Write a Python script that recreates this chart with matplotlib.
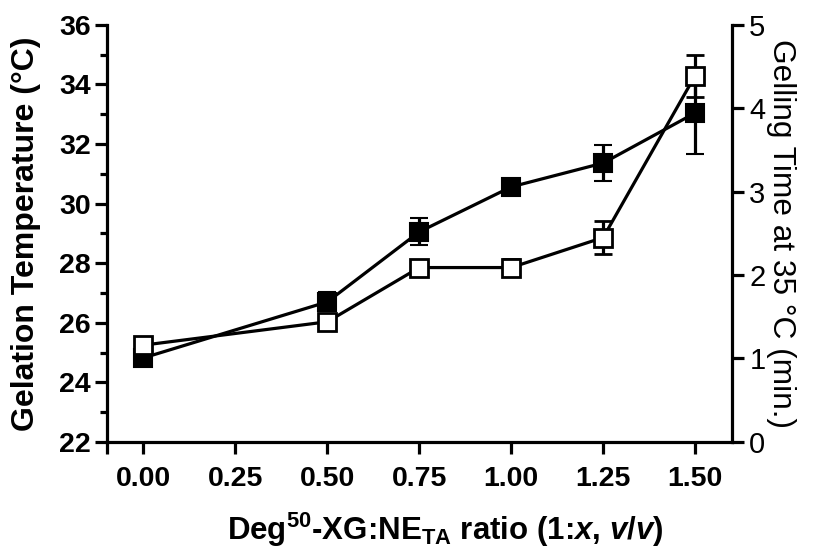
import matplotlib
matplotlib.use('Agg')
import matplotlib.pyplot as plt
from matplotlib.ticker import MultipleLocator

plt.rcParams['font.family'] = ['Liberation Sans', 'DejaVu Sans']
plt.rcParams['mathtext.fontset'] = 'custom'
plt.rcParams['mathtext.rm'] = 'Liberation Sans:bold'
plt.rcParams['mathtext.it'] = 'Liberation Sans:bold:italic'
plt.rcParams['mathtext.bf'] = 'Liberation Sans:bold'

# Deg50-XG : NE_TA ratio
ratio = [0.00, 0.50, 0.75, 1.00, 1.25, 1.50]

# gelation temperature (filled squares, left axis)
gel_temp = [24.82, 26.70, 29.05, 30.56, 31.36, 33.04]
gel_temp_err = [0.15, 0.32, 0.45, 0.15, 0.60, 1.38]

# gelling time at 35 C (open squares, right axis)
gel_time = [1.16, 1.44, 2.09, 2.09, 2.45, 4.39]
gel_time_err = [0.05, 0.03, 0.03, 0.10, 0.20, 0.25]

xticks = [0.00, 0.25, 0.50, 0.75, 1.00, 1.25, 1.50]
xtick_labels = ['0.00', '0.25', '0.50', '0.75', '1.00', '1.25', '1.50']

fig = plt.figure(figsize=(8.27, 5.51), dpi=100)
ax = fig.add_axes([0.129, 0.198, 0.756, 0.757])
ax2 = ax.twinx()

ax.errorbar(ratio, gel_temp, yerr=gel_temp_err, color='black', lw=2.3,
            marker='s', ms=12.5, mfc='black', mec='black', mew=1.5,
            capsize=6.5, capthick=2.3, elinewidth=2.3, zorder=3)
ax2.errorbar(ratio, gel_time, yerr=gel_time_err, color='black', lw=2.3,
             marker='s', ms=12.5, mfc='white', mec='black', mew=2,
             capsize=6.5, capthick=2.3, elinewidth=2.3, zorder=3)

ax.set_xlim(-0.1, 1.6)
ax.set_ylim(22, 36)
ax2.set_ylim(0, 5)

ax.set_xticks([-0.1] + xticks)
ax.set_xticklabels([''] + xtick_labels)
ax.yaxis.set_major_locator(MultipleLocator(2))
ax.yaxis.set_minor_locator(MultipleLocator(1))
ax2.yaxis.set_major_locator(MultipleLocator(1))

for a in (ax, ax2):
    a.spines['top'].set_visible(False)
    for s in a.spines.values():
        s.set_linewidth(2.3)
ax.spines['right'].set_visible(False)
ax2.spines['left'].set_visible(False)
ax2.spines['bottom'].set_visible(False)

ax.tick_params(axis='both', which='major', direction='out', length=8.5, width=2.3,
               labelsize=20.5, pad=3)
ax.tick_params(axis='y', which='minor', direction='out', length=5, width=2.3)
ax.tick_params(axis='x', pad=9)
ax2.tick_params(axis='y', which='major', direction='out', length=8.5, width=2.3,
                labelsize=21, pad=4)
for lab in ax.get_xticklabels() + ax.get_yticklabels():
    lab.set_fontweight('bold')

ax.set_ylabel('Gelation Temperature (°C)', fontsize=23, fontweight='bold', labelpad=13)
ax2.set_ylabel('Gelling Time at 35 °C (min.)', fontsize=22.8, rotation=-90,
               labelpad=22)
ax.set_xlabel(r'Deg$^{50}$-XG:NE$_{\mathrm{TA}}$ ratio (1:$x$, $v/v$)',
              fontsize=22.5, fontweight='bold', labelpad=14)
ax.xaxis.set_label_coords(0.542, -0.165)

fig.savefig('out.png', dpi=100)
